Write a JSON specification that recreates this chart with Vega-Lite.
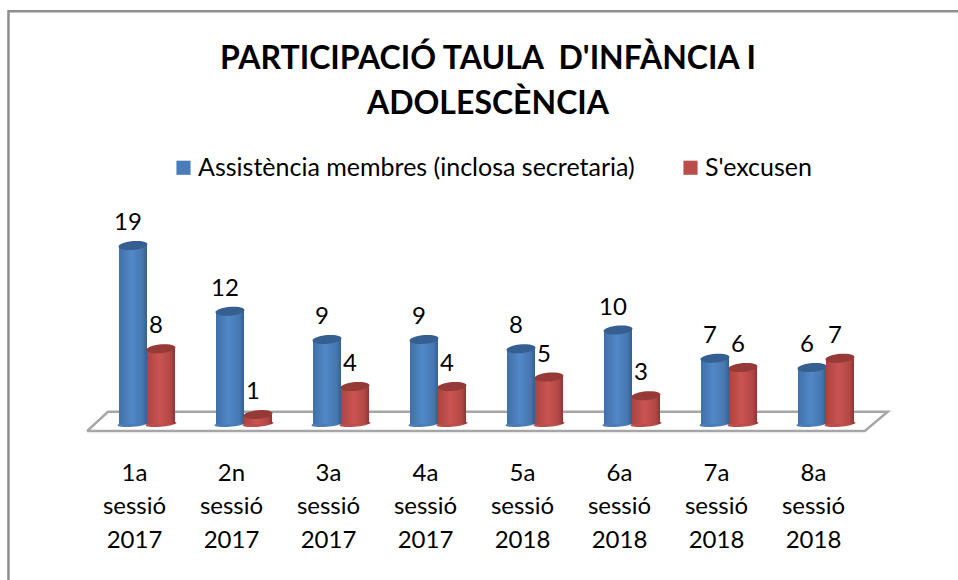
{
"$schema":"https://vega.github.io/schema/vega-lite/v6.json",
"autosize":{"type":"none"},
"width":776,"height":188,
"padding":{"left":98.5,"top":236,"right":83.5,"bottom":156},
"background":"white",
"config":{"view":{"stroke":null},"font":"Lato"},
"title":{"text":["PARTICIPACIÓ TAULA \u00a0D'INFÀNCIA I","ADOLESCÈNCIA"],"font":"Lato","fontSize":32,"fontWeight":"bold","color":"#000000","lineHeight":45,"anchor":"middle","frame":"group","offset":-114.5,"dx":1.5},
"resolve":{"scale":{"x":"independent"}},
"layer":[
{"data":{"values":[
{"shape":"frame","u":-0.116,"v":-17,"o":1},{"shape":"frame","u":-0.116,"v":43.9,"o":2},{"shape":"frame","u":1.11,"v":43.9,"o":3},
{"shape":"floor","u":-0.0148,"v":-0.75,"o":1},{"shape":"floor","u":0.0122,"v":1.3,"o":2},{"shape":"floor","u":1.017,"v":1.3,"o":3},{"shape":"floor","u":0.9875,"v":-0.75,"o":4},{"shape":"floor","u":-0.0148,"v":-0.75,"o":5}
]},
"mark":{"type":"line","clip":false,"strokeWidth":2.5},
"encoding":{
"x":{"field":"u","type":"quantitative","scale":{"domain":[0,1],"nice":false,"zero":false},"axis":null},
"y":{"field":"v","type":"quantitative","scale":{"domain":[0,20],"nice":false},"axis":null},
"color":{"condition":{"test":"datum.shape==='frame'","value":"#8e8e8e"},"value":"#a6a6a6"},
"detail":{"field":"shape"},
"order":{"field":"o"}
}},
{"data":{"values":[
{"session":"1a|sessió|2017","series":"Assistència membres (inclosa secretaria)","value":19},
{"session":"1a|sessió|2017","series":"S'excusen","value":8},
{"session":"2n|sessió|2017","series":"Assistència membres (inclosa secretaria)","value":12},
{"session":"2n|sessió|2017","series":"S'excusen","value":1},
{"session":"3a|sessió|2017","series":"Assistència membres (inclosa secretaria)","value":9},
{"session":"3a|sessió|2017","series":"S'excusen","value":4},
{"session":"4a|sessió|2017","series":"Assistència membres (inclosa secretaria)","value":9},
{"session":"4a|sessió|2017","series":"S'excusen","value":4},
{"session":"5a|sessió|2018","series":"Assistència membres (inclosa secretaria)","value":8},
{"session":"5a|sessió|2018","series":"S'excusen","value":5},
{"session":"6a|sessió|2018","series":"Assistència membres (inclosa secretaria)","value":10},
{"session":"6a|sessió|2018","series":"S'excusen","value":3},
{"session":"7a|sessió|2018","series":"Assistència membres (inclosa secretaria)","value":7},
{"session":"7a|sessió|2018","series":"S'excusen","value":6},
{"session":"8a|sessió|2018","series":"Assistència membres (inclosa secretaria)","value":6},
{"session":"8a|sessió|2018","series":"S'excusen","value":7}
]},
"encoding":{
"x":{"field":"session","type":"nominal","sort":null,"scale":{"paddingInner":0.4227,"paddingOuter":0.2113},
"axis":{"title":null,"domain":false,"ticks":false,"labelAngle":0,"labelFont":"Lato","labelFontSize":24,"labelColor":"#000000","labelPadding":37,"labelOffset":-12.5,"labelLineHeight":33.5,"labelExpr":"split(datum.label,'|')"}},
"xOffset":{"field":"series","type":"nominal","sort":["Assistència membres (inclosa secretaria)","S'excusen"]},
"y":{"field":"value","type":"quantitative","scale":{"domain":[0,20],"nice":false},"axis":null}
},
"layer":[
{"mark":{"type":"point","filled":true,"opacity":1,"size":784,"shape":"M-1,0A1,0.18 -5 1,1 1,0A1,0.18 -5 1,1 -1,0Z"},
"encoding":{"y":{"datum":0,"type":"quantitative"},
"color":{"field":"series","type":"nominal","scale":{"domain":["Assistència membres (inclosa secretaria)","S'excusen"],"range":["#4a7cb8","#bb4e4b"]},
"legend":{"title":null,"orient":"none","legendX":72.5,"legendY":-81,"direction":"horizontal","symbolType":"square","symbolSize":200,"symbolOpacity":1,"labelFont":"Lato","labelFontSize":25,"labelColor":"#000000","labelOffset":2,"columnPadding":43,"labelLimit":600}}}},
{"transform":[{"filter":"indexof(datum.series,'Assist')===0"}],
"mark":{"type":"bar","fill":{"gradient":"linear","x1":0,"x2":1,"y1":0,"y2":0,"stops":[{"offset":0,"color":"#3f70a8"},{"offset":0.45,"color":"#5288c8"},{"offset":0.85,"color":"#4576ae"},{"offset":1,"color":"#345f90"}]}}},
{"transform":[{"filter":"indexof(datum.series,'Assist')!==0"}],
"mark":{"type":"bar","fill":{"gradient":"linear","x1":0,"x2":1,"y1":0,"y2":0,"stops":[{"offset":0,"color":"#ab4341"},{"offset":0.45,"color":"#ca5452"},{"offset":0.85,"color":"#b04745"},{"offset":1,"color":"#8c3533"}]}}},
{"transform":[{"filter":"indexof(datum.series,'Assist')===0"}],
"mark":{"type":"point","filled":true,"opacity":1,"size":784,"color":"#365f91","shape":"M-1,0A1,0.3 -5 1,1 1,0A1,0.3 -5 1,1 -1,0Z"}},
{"transform":[{"filter":"indexof(datum.series,'Assist')!==0"}],
"mark":{"type":"point","filled":true,"opacity":1,"size":784,"color":"#963a38","shape":"M-1,0A1,0.3 -5 1,1 1,0A1,0.3 -5 1,1 -1,0Z"}},
{"mark":{"type":"text","font":"Lato","fontSize":24,"color":"#000000","dx":-5,"dy":-22.5},
"encoding":{"text":{"field":"value","type":"quantitative"}}}
]}
]
}
